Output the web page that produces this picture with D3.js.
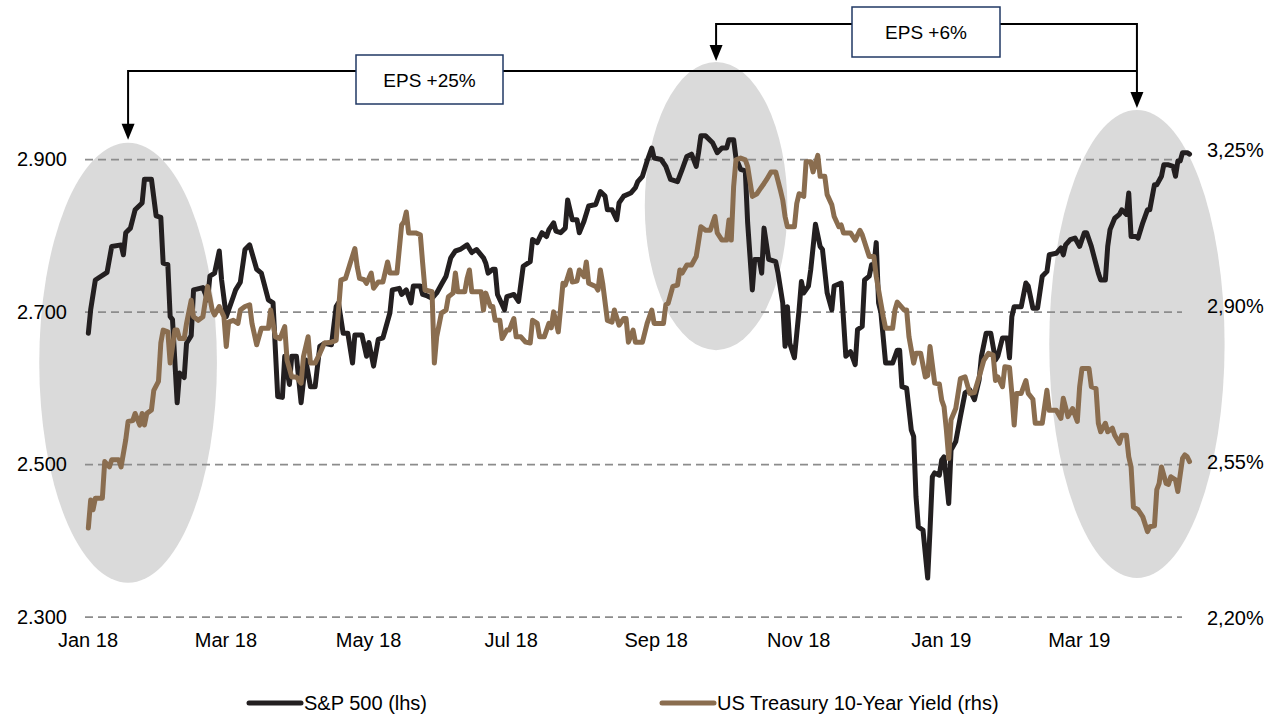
<!DOCTYPE html>
<html>
<head>
<meta charset="utf-8">
<script src="https://cdn.jsdelivr.net/npm/d3@7"></script>
<style>
  body { margin: 0; background: #fff; }
  svg { display: block; font-family: "Liberation Sans", Arial, sans-serif; }
  .grid { stroke: #8c8c8c; stroke-width: 1.75; stroke-dasharray: 8 5; }
  .line { fill: none; stroke-width: 5; stroke-linejoin: round; stroke-linecap: round; }
  .highlight { fill: #dadada; }
  .connector { fill: none; stroke: #000; stroke-width: 2; }
  .box { fill: #fff; stroke: #203864; stroke-width: 1.5; }
  .box-label { font-size: 19px; text-anchor: middle; }
  .legend-label { font-size: 20px; }
</style>
</head>
<body>
<svg width="1270" height="717"></svg>
<script>
// S&P 500 (lhs)
var spxDates = [
  "2018-01-02","2018-01-03","2018-01-05","2018-01-10","2018-01-12","2018-01-16","2018-01-17","2018-01-18",
  "2018-01-20","2018-01-22","2018-01-25","2018-01-26","2018-01-29","2018-01-31","2018-02-02","2018-02-03",
  "2018-02-05","2018-02-06","2018-02-07","2018-02-09","2018-02-10","2018-02-12","2018-02-13","2018-02-15",
  "2018-02-16","2018-02-20","2018-02-22","2018-02-23","2018-02-25","2018-02-27","2018-02-28","2018-03-02",
  "2018-03-05","2018-03-06","2018-03-08","2018-03-10","2018-03-12","2018-03-15","2018-03-17","2018-03-20",
  "2018-03-22","2018-03-24","2018-03-26","2018-03-27","2018-03-29","2018-03-30","2018-04-01","2018-04-03",
  "2018-04-05","2018-04-07","2018-04-09","2018-04-11","2018-04-13","2018-04-16","2018-04-18","2018-04-19",
  "2018-04-21","2018-04-23","2018-04-25","2018-04-26","2018-04-29","2018-05-01","2018-05-02","2018-05-04",
  "2018-05-06","2018-05-08","2018-05-09","2018-05-11","2018-05-12","2018-05-15","2018-05-16","2018-05-18",
  "2018-05-20","2018-05-21","2018-05-24","2018-05-25","2018-05-27","2018-05-29","2018-05-31","2018-06-02",
  "2018-06-04","2018-06-06","2018-06-08","2018-06-10","2018-06-13","2018-06-15","2018-06-17","2018-06-20",
  "2018-06-21","2018-06-22","2018-06-24","2018-06-25","2018-06-26","2018-06-29","2018-06-30","2018-07-03",
  "2018-07-05","2018-07-07","2018-07-10","2018-07-11","2018-07-13","2018-07-15","2018-07-17","2018-07-18",
  "2018-07-20","2018-07-21","2018-07-23","2018-07-25","2018-07-26","2018-07-28","2018-07-30","2018-07-31",
  "2018-08-02","2018-08-04","2018-08-07","2018-08-09","2018-08-11","2018-08-12","2018-08-14","2018-08-16",
  "2018-08-17","2018-08-19","2018-08-22","2018-08-24","2018-08-25","2018-08-27","2018-08-29","2018-08-31",
  "2018-09-01","2018-09-04","2018-09-06","2018-09-08","2018-09-11","2018-09-13","2018-09-15","2018-09-17",
  "2018-09-19","2018-09-20","2018-09-21","2018-09-23","2018-09-26","2018-09-28","2018-09-30","2018-10-02",
  "2018-10-03","2018-10-05","2018-10-06","2018-10-08","2018-10-10","2018-10-11","2018-10-13","2018-10-14",
  "2018-10-16","2018-10-17","2018-10-18","2018-10-20","2018-10-23","2018-10-24","2018-10-26","2018-10-27",
  "2018-10-28","2018-10-29","2018-10-31","2018-11-02","2018-11-03","2018-11-04","2018-11-06","2018-11-07",
  "2018-11-09","2018-11-11","2018-11-12","2018-11-14","2018-11-16","2018-11-17","2018-11-20","2018-11-22",
  "2018-11-24","2018-11-26","2018-11-27","2018-11-29","2018-11-30","2018-12-02","2018-12-03","2018-12-04",
  "2018-12-05","2018-12-06","2018-12-07","2018-12-09","2018-12-12","2018-12-14","2018-12-15","2018-12-16",
  "2018-12-18","2018-12-20","2018-12-21","2018-12-22","2018-12-23","2018-12-25","2018-12-27","2018-12-28",
  "2018-12-29","2018-12-30","2019-01-01","2019-01-02","2019-01-03","2019-01-05","2019-01-06","2019-01-08",
  "2019-01-10","2019-01-12","2019-01-14","2019-01-16","2019-01-18","2019-01-19","2019-01-21","2019-01-23",
  "2019-01-25","2019-01-26","2019-01-28","2019-01-30","2019-01-31","2019-02-01","2019-02-02","2019-02-05",
  "2019-02-07","2019-02-08","2019-02-10","2019-02-12","2019-02-14","2019-02-16","2019-02-17","2019-02-20",
  "2019-02-22","2019-02-23","2019-02-24","2019-02-26","2019-02-28","2019-03-02","2019-03-04","2019-03-05",
  "2019-03-07","2019-03-10","2019-03-11","2019-03-13","2019-03-14","2019-03-15","2019-03-17","2019-03-19",
  "2019-03-20","2019-03-22","2019-03-23","2019-03-24","2019-03-26","2019-03-27","2019-03-29","2019-03-31",
  "2019-04-01","2019-04-03","2019-04-04","2019-04-06","2019-04-07","2019-04-09","2019-04-11","2019-04-12",
  "2019-04-13","2019-04-14","2019-04-15","2019-04-17","2019-04-18"
];
var spxValues = [
  2672, 2703, 2742, 2752, 2786, 2788, 2775, 2804,
  2810, 2834, 2843, 2874, 2874, 2826, 2824, 2764,
  2762, 2694, 2690, 2581, 2620, 2614, 2659, 2669,
  2729, 2732, 2716, 2747, 2751, 2780, 2742, 2694,
  2720, 2729, 2739, 2782, 2788, 2756, 2751, 2716,
  2712, 2589, 2588, 2642, 2605, 2642, 2642, 2581,
  2637, 2602, 2602, 2655, 2659, 2657, 2707, 2712,
  2672, 2672, 2633, 2670, 2670, 2642, 2660, 2629,
  2664, 2666, 2677, 2699, 2729, 2731, 2723, 2729,
  2712, 2734, 2734, 2723, 2721, 2718, 2725, 2736,
  2747, 2771, 2780, 2782, 2788, 2778, 2782, 2771,
  2764, 2751, 2756, 2756, 2723, 2703, 2720, 2723,
  2714, 2760, 2766, 2795, 2791, 2804, 2799, 2808,
  2817, 2806, 2804, 2810, 2847, 2821, 2821, 2804,
  2819, 2839, 2841, 2858, 2852, 2834, 2834, 2821,
  2843, 2852, 2856, 2863, 2871, 2878, 2898, 2915,
  2902, 2900, 2891, 2874, 2871, 2887, 2904, 2907,
  2891, 2909, 2931, 2931, 2922, 2909, 2915, 2915,
  2926, 2926, 2902, 2887, 2885, 2817, 2729, 2769,
  2769, 2751, 2810, 2769, 2766, 2751, 2712, 2655,
  2707, 2659, 2640, 2703, 2740, 2725, 2734, 2756,
  2815, 2786, 2782, 2725, 2703, 2734, 2738, 2642,
  2648, 2631, 2677, 2681, 2742, 2747, 2762, 2760,
  2791, 2712, 2699, 2633, 2633, 2650, 2650, 2602,
  2600, 2545, 2537, 2458, 2418, 2414, 2351, 2414,
  2484, 2489, 2486, 2506, 2510, 2449, 2519, 2530,
  2563, 2594, 2598, 2585, 2611, 2642, 2672, 2672,
  2637, 2642, 2666, 2666, 2640, 2694, 2707, 2707,
  2738, 2734, 2705, 2705, 2747, 2753, 2775, 2777,
  2784, 2775, 2788, 2795, 2797, 2786, 2804, 2804,
  2786, 2751, 2742, 2742, 2786, 2808, 2823, 2828,
  2834, 2828, 2856, 2799, 2799, 2797, 2817, 2834,
  2834, 2867, 2867, 2878, 2893, 2893, 2891, 2878,
  2898, 2898, 2909, 2909, 2907
];

// US Treasury 10-Year Yield (rhs), in percent
var ustDates = [
  "2018-01-02","2018-01-03","2018-01-04","2018-01-05","2018-01-08","2018-01-09","2018-01-11","2018-01-12",
  "2018-01-15","2018-01-16","2018-01-18","2018-01-19","2018-01-21","2018-01-22","2018-01-24","2018-01-25",
  "2018-01-26","2018-01-27","2018-01-29","2018-01-30","2018-02-01","2018-02-02","2018-02-03","2018-02-05",
  "2018-02-06","2018-02-08","2018-02-09","2018-02-10","2018-02-12","2018-02-13","2018-02-15","2018-02-16",
  "2018-02-18","2018-02-20","2018-02-22","2018-02-24","2018-02-25","2018-02-27","2018-03-01","2018-03-02",
  "2018-03-03","2018-03-05","2018-03-07","2018-03-08","2018-03-10","2018-03-12","2018-03-13","2018-03-15",
  "2018-03-17","2018-03-20","2018-03-21","2018-03-23","2018-03-25","2018-03-27","2018-03-28","2018-03-30",
  "2018-04-01","2018-04-03","2018-04-04","2018-04-06","2018-04-07","2018-04-09","2018-04-11","2018-04-13",
  "2018-04-16","2018-04-18","2018-04-20","2018-04-22","2018-04-24","2018-04-26","2018-04-27","2018-04-28",
  "2018-04-30","2018-05-01","2018-05-03","2018-05-04","2018-05-06","2018-05-08","2018-05-10","2018-05-11",
  "2018-05-14","2018-05-16","2018-05-17","2018-05-18","2018-05-19","2018-05-22","2018-05-24","2018-05-25",
  "2018-05-26","2018-05-29","2018-05-30","2018-05-31","2018-06-02","2018-06-04","2018-06-05","2018-06-07",
  "2018-06-08","2018-06-09","2018-06-12","2018-06-13","2018-06-14","2018-06-15","2018-06-19","2018-06-20",
  "2018-06-21","2018-06-23","2018-06-24","2018-06-25","2018-06-27","2018-06-28","2018-06-30","2018-07-01",
  "2018-07-03","2018-07-04","2018-07-06","2018-07-08","2018-07-10","2018-07-11","2018-07-13","2018-07-14",
  "2018-07-16","2018-07-18","2018-07-19","2018-07-20","2018-07-22","2018-07-23","2018-07-24","2018-07-25",
  "2018-07-27","2018-07-28","2018-07-30","2018-07-31","2018-08-02","2018-08-03","2018-08-04","2018-08-07",
  "2018-08-08","2018-08-09","2018-08-10","2018-08-12","2018-08-14","2018-08-15","2018-08-17","2018-08-19",
  "2018-08-20","2018-08-21","2018-08-23","2018-08-24","2018-08-27","2018-08-29","2018-08-31","2018-09-01",
  "2018-09-05","2018-09-06","2018-09-07","2018-09-09","2018-09-11","2018-09-12","2018-09-13","2018-09-15",
  "2018-09-17","2018-09-19","2018-09-21","2018-09-23","2018-09-25","2018-09-27","2018-09-28","2018-09-30",
  "2018-10-02","2018-10-03","2018-10-04","2018-10-05","2018-10-06","2018-10-08","2018-10-10","2018-10-11",
  "2018-10-13","2018-10-15","2018-10-16","2018-10-18","2018-10-19","2018-10-21","2018-10-23","2018-10-25",
  "2018-10-26","2018-10-27","2018-10-28","2018-10-31","2018-11-01","2018-11-02","2018-11-04","2018-11-05",
  "2018-11-07","2018-11-08","2018-11-10","2018-11-11","2018-11-13","2018-11-14","2018-11-16","2018-11-17",
  "2018-11-19","2018-11-20","2018-11-21","2018-11-24","2018-11-26","2018-11-28","2018-11-29","2018-12-02",
  "2018-12-04","2018-12-05","2018-12-07","2018-12-08","2018-12-09","2018-12-12","2018-12-13","2018-12-14",
  "2018-12-17","2018-12-18","2018-12-19","2018-12-21","2018-12-22","2018-12-24","2018-12-26","2018-12-27",
  "2018-12-28","2018-12-30","2019-01-01","2019-01-02","2019-01-03","2019-01-04","2019-01-05","2019-01-06",
  "2019-01-08","2019-01-10","2019-01-12","2019-01-14","2019-01-16","2019-01-18","2019-01-20","2019-01-22",
  "2019-01-24","2019-01-25","2019-01-26","2019-01-28","2019-01-29","2019-01-31","2019-02-01","2019-02-02",
  "2019-02-03","2019-02-05","2019-02-07","2019-02-08","2019-02-10","2019-02-11","2019-02-14","2019-02-16",
  "2019-02-17","2019-02-20","2019-02-22","2019-02-23","2019-02-25","2019-02-27","2019-03-01","2019-03-02",
  "2019-03-03","2019-03-06","2019-03-07","2019-03-09","2019-03-10","2019-03-11","2019-03-13","2019-03-14",
  "2019-03-16","2019-03-17","2019-03-19","2019-03-20","2019-03-22","2019-03-23","2019-03-24","2019-03-25",
  "2019-03-27","2019-03-29","2019-03-31","2019-04-01","2019-04-03","2019-04-04","2019-04-05","2019-04-06",
  "2019-04-08","2019-04-09","2019-04-10","2019-04-12","2019-04-13","2019-04-15","2019-04-16","2019-04-17",
  "2019-04-18"
];
var ustValues = [
  2.403, 2.466, 2.444, 2.470, 2.470, 2.552, 2.540, 2.556,
  2.556, 2.540, 2.601, 2.642, 2.644, 2.660, 2.634, 2.660,
  2.634, 2.660, 2.668, 2.712, 2.732, 2.818, 2.847, 2.843,
  2.773, 2.847, 2.847, 2.828, 2.828, 2.862, 2.914, 2.877,
  2.869, 2.877, 2.945, 2.892, 2.881, 2.900, 2.877, 2.810,
  2.865, 2.869, 2.862, 2.892, 2.900, 2.904, 2.862, 2.814,
  2.851, 2.851, 2.892, 2.832, 2.828, 2.855, 2.779, 2.742,
  2.742, 2.728, 2.787, 2.832, 2.773, 2.773, 2.795, 2.818,
  2.820, 2.824, 2.959, 2.963, 2.997, 3.030, 2.989, 2.963,
  2.960, 2.952, 2.975, 2.941, 2.955, 2.955, 3.000, 2.975,
  2.975, 3.083, 3.090, 3.112, 3.065, 3.065, 3.061, 2.997,
  2.937, 2.933, 2.773, 2.832, 2.885, 2.892, 2.922, 2.930,
  2.975, 2.933, 2.933, 2.963, 2.982, 2.933, 2.933, 2.892,
  2.930, 2.900, 2.900, 2.869, 2.869, 2.828, 2.847, 2.847,
  2.873, 2.832, 2.832, 2.820, 2.818, 2.869, 2.862, 2.832,
  2.832, 2.862, 2.852, 2.888, 2.843, 2.896, 2.952, 2.948,
  2.982, 2.955, 2.957, 2.982, 2.967, 3.000, 2.952, 2.945,
  2.937, 2.982, 2.952, 2.869, 2.865, 2.892, 2.858, 2.873,
  2.873, 2.820, 2.847, 2.820, 2.820, 2.862, 2.892, 2.862,
  2.862, 2.904, 2.907, 2.945, 2.948, 2.982, 2.975, 2.993,
  2.993, 3.012, 3.079, 3.071, 3.071, 3.102, 3.065, 3.049,
  3.049, 3.094, 3.049, 3.169, 3.229, 3.233, 3.229, 3.214,
  3.147, 3.153, 3.161, 3.176, 3.184, 3.202, 3.202, 3.161,
  3.139, 3.102, 3.079, 3.079, 3.131, 3.153, 3.147, 3.225,
  3.225, 3.202, 3.239, 3.192, 3.192, 3.151, 3.128, 3.102,
  3.079, 3.083, 3.065, 3.065, 3.049, 3.071, 3.061, 3.012,
  3.012, 2.967, 2.907, 2.877, 2.851, 2.851, 2.892, 2.910,
  2.892, 2.892, 2.832, 2.773, 2.795, 2.795, 2.742, 2.745,
  2.810, 2.728, 2.726, 2.690, 2.675, 2.623, 2.559, 2.646,
  2.671, 2.738, 2.742, 2.705, 2.707, 2.742, 2.779, 2.795,
  2.791, 2.734, 2.742, 2.720, 2.765, 2.763, 2.705, 2.634,
  2.705, 2.705, 2.734, 2.705, 2.692, 2.638, 2.638, 2.712,
  2.667, 2.667, 2.649, 2.694, 2.653, 2.671, 2.642, 2.720,
  2.761, 2.761, 2.720, 2.716, 2.638, 2.619, 2.638, 2.619,
  2.627, 2.611, 2.593, 2.611, 2.611, 2.563, 2.540, 2.450,
  2.444, 2.428, 2.395, 2.406, 2.408, 2.489, 2.503, 2.540,
  2.503, 2.501, 2.518, 2.511, 2.485, 2.559, 2.567, 2.563,
  2.552
];

// axis ticks
var leftTicks = [2300, 2500, 2700, 2900];
var rightTicks = [2.20, 2.55, 2.90, 3.25];

// shaded periods: [start, end] and the S&P range they cover
var highlightDates = [["2017-12-12", "2018-02-26"], ["2018-08-28", "2018-10-28"], ["2019-02-17", "2019-05-03"]];
var highlightLevels = [[2345, 2922], [2650, 3028], [2351, 2965]];

var parseDate = d3.utcParse("%Y-%m-%d");
var locale = d3.formatLocale({decimal: ",", thousands: ".", grouping: [3], currency: ["", ""]});
var fmtLeft = locale.format(",.0f");
var fmtRight = d => locale.format(".2f")(d) + "%";

var svg = d3.select("svg");

var xScale = d3.scaleUtc()
  .domain([parseDate("2018-01-01"), parseDate("2019-04-20")])
  .range([86, 86 + 474 * 2.338]);
var yLeft = d3.scaleLinear().domain([2300, 2900]).range([617, 159.5]);
var yRight = d3.scaleLinear().domain([2.20, 3.25]).range([618.5, 150.5]);

var spx = spxDates.map((d, i) => ({date: parseDate(d), value: spxValues[i]}));
var ust = ustDates.map((d, i) => ({date: parseDate(d), value: ustValues[i]}));

// highlight ellipses
var ellipses = highlightDates.map((p, i) => {
  var x0 = xScale(parseDate(p[0])), x1 = xScale(parseDate(p[1]));
  var y0 = yLeft(highlightLevels[i][1]), y1 = yLeft(highlightLevels[i][0]);
  return {cx: (x0 + x1) / 2, cy: (y0 + y1) / 2, rx: (x1 - x0) / 2, ry: (y1 - y0) / 2, top: y0};
});

svg.append("g").selectAll("ellipse")
  .data(ellipses)
  .enter().append("ellipse")
    .attr("class", "highlight")
    .attr("cx", d => d.cx)
    .attr("cy", d => d.cy)
    .attr("rx", d => d.rx)
    .attr("ry", d => d.ry);

// gridlines
svg.append("g").selectAll("line")
  .data(leftTicks)
  .enter().append("line")
    .attr("class", "grid")
    .attr("x1", 85)
    .attr("x2", 1182)
    .attr("y1", d => yLeft(d))
    .attr("y2", d => yLeft(d));

// axes
var axisLeft = svg.append("g")
  .attr("transform", "translate(67,0)")
  .call(d3.axisLeft(yLeft).tickValues(leftTicks).tickFormat(fmtLeft).tickSize(0).tickPadding(0));
var axisRight = svg.append("g")
  .attr("transform", "translate(1207,0)")
  .call(d3.axisRight(yRight).tickValues(rightTicks).tickFormat(fmtRight).tickSize(0).tickPadding(0));
var axisX = svg.append("g")
  .attr("transform", "translate(1.5,633)")
  .call(d3.axisBottom(xScale).ticks(d3.utcMonth.every(2)).tickFormat(d3.utcFormat("%b %y")).tickSize(0).tickPadding(0));

[axisLeft, axisRight, axisX].forEach(a => {
  a.select(".domain").remove();
  a.attr("font-family", null).attr("font-size", 20);
  a.selectAll("text").attr("fill", "#000");
});

// series
var lineLeft = d3.line().x(d => xScale(d.date)).y(d => yLeft(d.value));
var lineRight = d3.line().x(d => xScale(d.date)).y(d => yRight(d.value));

svg.append("path")
  .datum(spx)
  .attr("class", "line")
  .attr("stroke", "#231f20")
  .attr("d", lineLeft);

svg.append("path")
  .datum(ust)
  .attr("class", "line")
  .attr("stroke", "#8a6d4f")
  .attr("d", lineRight);

// EPS annotations
var ann = svg.append("g");
var xA = ellipses[0].cx, xB = ellipses[1].cx, xC = ellipses[2].cx;

ann.append("path")
  .attr("class", "connector")
  .attr("d", `M${xA},${ellipses[0].top - 18} V71 H${xC} M${xB},${ellipses[1].top - 16} V24 H${xC} V${ellipses[2].top - 16}`);

function arrowHead(x, tip) {
  ann.append("path")
    .attr("d", `M${x - 6.5},${tip - 16} L${x + 6.5},${tip - 16} L${x},${tip} Z`)
    .attr("fill", "#000");
}
arrowHead(xA, ellipses[0].top - 3);
arrowHead(xB, ellipses[1].top - 1);
arrowHead(xC, ellipses[2].top - 2);

function labelBox(x, y, w, h, text) {
  ann.append("rect")
    .attr("class", "box")
    .attr("x", x).attr("y", y)
    .attr("width", w).attr("height", h);
  ann.append("text")
    .attr("class", "box-label")
    .attr("x", x + w / 2)
    .attr("y", y + h / 2 + 7)
    .text(text);
}
labelBox(356, 55, 147, 49, "EPS +25%");
labelBox(852, 7, 148, 50, "EPS +6%");

// legend
var legend = svg.append("g");
var legendItems = [
  {label: "S&P 500 (lhs)", color: "#231f20", x: 247},
  {label: "US Treasury 10-Year Yield (rhs)", color: "#8a6d4f", x: 660}
];
legendItems.forEach(item => {
  legend.append("line")
    .attr("x1", item.x + 2).attr("x2", item.x + 54)
    .attr("y1", 703).attr("y2", 703)
    .attr("stroke", item.color)
    .attr("stroke-width", 5)
    .attr("stroke-linecap", "round");
  legend.append("text")
    .attr("class", "legend-label")
    .attr("x", item.x + 57)
    .attr("y", 710)
    .text(item.label);
});
</script>
</body>
</html>
